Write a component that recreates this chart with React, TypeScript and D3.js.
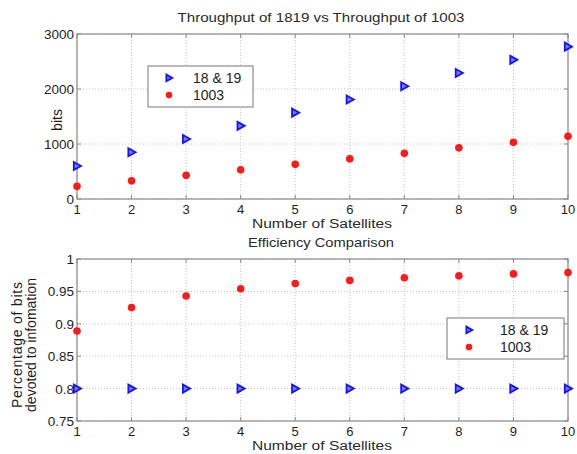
import React from 'react';
import * as d3 from 'd3';

// ==== data

const satellites = [1, 2, 3, 4, 5, 6, 7, 8, 9, 10];
const throughput1819 = [600, 850, 1090, 1330, 1570, 1810, 2050, 2290, 2530, 2770];
const throughput1003 = [230, 330, 430, 530, 630, 730, 830, 930, 1030, 1140];
const efficiency1819 = [0.8, 0.8, 0.8, 0.8, 0.8, 0.8, 0.8, 0.8, 0.8, 0.8];
const efficiency1003 = [0.889, 0.925, 0.943, 0.954, 0.962, 0.967, 0.971, 0.974, 0.977, 0.979];
const throughputTicks = [0, 1000, 2000, 3000];
const efficiencyTicks = [0.75, 0.8, 0.85, 0.9, 0.95, 1];
const seriesNames = ['18 & 19', '1003'];

// ====

const FONT = 'Liberation Sans, Arial, sans-serif';
const BLUE = '#1414ff';
const RED = '#ff1a1a';
const INK = '#1e1e1e';

const triangle = (cx, cy, s = 4) =>
    `M${cx - s * 0.8},${cy - s} L${cx + s},${cy} L${cx - s * 0.8},${cy + s} Z`;

function Panel({ top, bottom, title, titleLen, titleY, yDomain, yTicks, blue, red, yLabel, legend }) {
    const left = 77;
    const right = 568;

    const x = d3.scaleLinear().domain([1, 10]).range([left, right]);
    const y = d3.scaleLinear().domain(yDomain).range([bottom, top]);

    return (
        <g fontFamily={FONT}>
            <rect x={left} y={top} width={right - left} height={bottom - top} fill="#fff" />

            {satellites.map((s) => (
                <line key={'gx' + s} x1={x(s)} x2={x(s)} y1={top} y2={bottom} stroke="#c4c4c4" strokeDasharray="1,2" />
            ))}
            {yTicks.map((t) => (
                <line key={'gy' + t} x1={left} x2={right} y1={y(t)} y2={y(t)} stroke="#c4c4c4" strokeDasharray="1,2" />
            ))}
            {satellites.map((s) => (
                <g key={'tk' + s} stroke="#888">
                    <line x1={x(s)} x2={x(s)} y1={bottom} y2={bottom - 4} />
                    <line x1={x(s)} x2={x(s)} y1={top} y2={top + 4} />
                </g>
            ))}
            {yTicks.map((t) => (
                <g key={'tky' + t} stroke="#888">
                    <line x1={left} x2={left + 4} y1={y(t)} y2={y(t)} />
                    <line x1={right} x2={right - 4} y1={y(t)} y2={y(t)} />
                </g>
            ))}
            <rect x={left} y={top} width={right - left} height={bottom - top} fill="none" stroke="#8a8a8a" strokeWidth={1.2} />

            {satellites.map((s) => (
                <text key={'tx' + s} x={x(s)} y={bottom + 15} textAnchor="middle" fontSize={13} fill={INK}>{s}</text>
            ))}
            {yTicks.map((t) => (
                <text key={'ty' + t} x={left - 3} y={y(t) + 5} textAnchor="end" fontSize={13.5} fill={INK}>{String(t)}</text>
            ))}

            <text x={321} y={titleY} textAnchor="middle" fontSize={13} fill="#2a2a2a" textLength={titleLen} lengthAdjust="spacingAndGlyphs">{title}</text>
            <text x={322} y={bottom + 29} textAnchor="middle" fontSize={12.5} fill="#2a2a2a" textLength={140} lengthAdjust="spacingAndGlyphs">Number of Satellites</text>

            {yLabel}

            {red.map((v, i) => (
                <circle key={'r' + i} cx={x(satellites[i])} cy={y(v)} r={3.8} fill={RED} />
            ))}
            {blue.map((v, i) => (
                <path key={'b' + i} d={triangle(x(satellites[i]), y(v))} fill="#7a7aff" stroke={BLUE} strokeWidth={1.8} />
            ))}

            <g transform={`translate(${legend.x},${legend.y})`}>
                <rect width={legend.w} height={legend.h} fill="#fff" stroke="#777" />
                <path d={triangle(legend.mx, legend.h * 0.29, 3.3)} fill="#7a7aff" stroke={BLUE} strokeWidth={1.8} />
                <circle cx={legend.mx} cy={legend.h * 0.71} r={3.3} fill={RED} />
                <text x={legend.tx} y={legend.h * 0.29 + 5} fontSize={14} fill={INK}>{seriesNames[0]}</text>
                <text x={legend.tx} y={legend.h * 0.71 + 5} fontSize={14} fill={INK}>{seriesNames[1]}</text>
            </g>
        </g>
    );
}

export default function App() {
    return (
        <svg width={577} height={454} style={{ display: 'block', position: 'absolute', left: 0, top: 0 }}>
            <rect width={577} height={454} fill="#fff" />
            <Panel
                top={34}
                bottom={199}
                title="Throughput of 1819 vs Throughput of 1003"
                titleLen={287}
                titleY={22}
                yDomain={[0, 3000]}
                yTicks={throughputTicks}
                blue={throughput1819}
                red={throughput1003}
                yLabel={
                    <text transform="translate(62,120) rotate(-90)" textAnchor="middle" fontSize={14} fill={INK}>bits</text>
                }
                legend={{ x: 148, y: 66, w: 105, h: 41, mx: 21, tx: 45 }}
            />
            <Panel
                top={259}
                bottom={421}
                title="Efficiency Comparison"
                titleLen={146}
                titleY={247}
                yDomain={[0.75, 1]}
                yTicks={efficiencyTicks}
                blue={efficiency1819}
                red={efficiency1003}
                yLabel={
                    <g>
                        <text transform="translate(22,345) rotate(-90)" textAnchor="middle" fontSize={14} fill={INK} textLength={126} lengthAdjust="spacing">Percentage of bits</text>
                        <text transform="translate(36,345) rotate(-90)" textAnchor="middle" fontSize={14} fill={INK}>devoted to infomation</text>
                    </g>
                }
                legend={{ x: 447, y: 318, w: 117, h: 41, mx: 22, tx: 53 }}
            />
        </svg>
    );
}
